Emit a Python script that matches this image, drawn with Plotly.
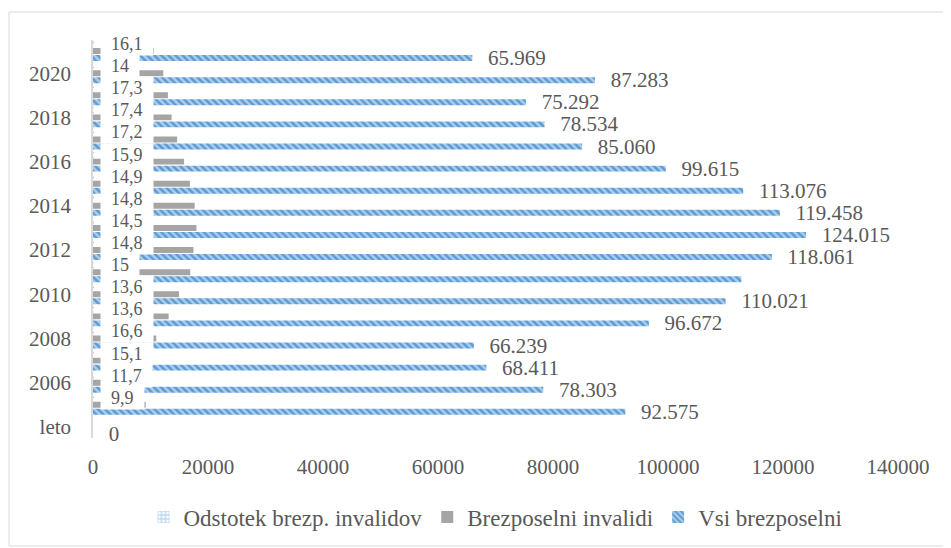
import plotly.graph_objects as go

# ---- data ----
categories = ["leto", "2005", "2006", "2007", "2008", "2009", "2010", "2011", "2012",
              "2013", "2014", "2015", "2016", "2017", "2018", "2019", "2020", "2021"]
vsi_brezposelni = [0, 92575, 78303, 68411, 66239, 96672, 110021, 112753, 118061,
                   124015, 119458, 113076, 99615, 85060, 78534, 75292, 87283, 65969]
brezposelni_invalidi = [0, 9170, 9160, 10330, 11000, 13150, 14960, 16910, 17470,
                        17980, 17680, 16850, 15840, 14630, 13670, 13030, 12220, 10620]
odstotek = [0, 9.9, 11.7, 15.1, 16.6, 13.6, 13.6, 15, 14.8,
            14.5, 14.8, 14.9, 15.9, 17.2, 17.4, 17.3, 14, 16.1]
y_tick_labels = ["leto", "2006", "2008", "2010", "2012", "2014", "2016", "2018", "2020"]
x_ticks = [0, 20000, 40000, 60000, 80000, 100000, 120000, 140000]
unlabeled_vsi = ["2011"]
unlabeled_odstotek = ["leto"]

# ---- styling ----
FONT = "Liberation Serif"
TXT = "#595959"
BLUE = "#5B9BD5"
GRAY = "#A5A5A5"
W, H = 951, 548
PAGE_OFF = 8  # default body margin of the html page
# desired plot-area edges in window pixels
PL, PR, PT, PB = 93, 898, 40, 438
ML = PL - PAGE_OFF
MT = PT - PAGE_OFF
MR = W - (PR - PAGE_OFF)
MB = H - (PB - PAGE_OFF)
BARGAP = 0.05
BARGROUPGAP = 0.15
NB = "\u00a0"

plot_h = PB - PT
plot_w = PR - PL
cat_px = plot_h / len(categories)
slot_px = cat_px * (1 - BARGAP) / 3
cat_index = {c: i for i, c in enumerate(categories)}

vsi_text = []
for c, v in zip(categories, vsi_brezposelni):
    vsi_text.append("" if c in unlabeled_vsi else NB * 3 + f"{v:,}".replace(",", "."))

fig = go.Figure()
fig.add_trace(go.Bar(
    name="Vsi brezposelni", y=categories, x=vsi_brezposelni, orientation="h",
    marker=dict(color=BLUE, line=dict(width=0),
                pattern=dict(shape="\\", fgcolor="white", bgcolor=BLUE, size=5, solidity=0.5)),
    text=vsi_text, textposition="outside", constraintext="none", cliponaxis=False,
    textfont=dict(family=FONT, size=21, color=TXT),
))
fig.add_trace(go.Bar(
    name="Brezposelni invalidi", y=categories, x=brezposelni_invalidi, orientation="h",
    marker=dict(color=GRAY, line=dict(width=0)),
))
fig.add_trace(go.Bar(
    name="Odstotek brezp. invalidov", y=categories, x=odstotek, orientation="h",
    marker=dict(color="white", line=dict(width=0),
                pattern=dict(shape="+", fgcolor=BLUE, bgcolor="white", size=5, solidity=0.5)),
))

annotations = []
for c, v in zip(categories, odstotek):
    if c in unlabeled_odstotek:
        continue
    annotations.append(dict(
        x=v, y=cat_index[c], xref="x", yref="y", xanchor="left", yanchor="middle",
        xshift=7, yshift=slot_px, showarrow=False,
        text=NB * 2 + f"{v:g}".replace(".", ",") + NB * 2,
        bgcolor="white", borderpad=1,
        font=dict(family=FONT, size=18, color=TXT),
    ))

def px_to_paper_x(px):
    return (px - PL) / plot_w

def px_to_paper_y(py):
    return (PB - py) / plot_h

fig.update_layout(
    width=W, height=H,
    margin=dict(l=ML, r=MR, t=MT, b=MB, pad=0),
    paper_bgcolor="white", plot_bgcolor="white",
    barmode="group", bargap=BARGAP, bargroupgap=BARGROUPGAP,
    separators=",.",
    font=dict(family=FONT, size=21, color=TXT),
    showlegend=True,
    legend=dict(orientation="h", x=0.5, xanchor="center", y=px_to_paper_y(517), yanchor="middle",
                traceorder="reversed", font=dict(family=FONT, size=23, color=TXT),
                itemwidth=30),
    annotations=annotations,
    shapes=[dict(type="rect", xref="paper", yref="paper",
                 x0=px_to_paper_x(PAGE_OFF + 1), x1=px_to_paper_x(949),
                 y0=px_to_paper_y(546), y1=px_to_paper_y(12),
                 line=dict(color="#D9D9D9", width=1), layer="below")],
)
fig.update_xaxes(range=[0, 140000], tickvals=x_ticks, tickformat="d",
                 showgrid=False, zeroline=False, showline=False, ticks="",
                 ticklabelstandoff=14, tickfont=dict(family=FONT, size=21, color=TXT))
fig.update_yaxes(type="category", categoryorder="array", categoryarray=categories,
                 range=[-0.5, len(categories) - 0.5],
                 tickvals=[cat_index[t] for t in y_tick_labels], ticktext=y_tick_labels,
                 showgrid=False, zeroline=False, showline=True, linecolor="#D9D9D9", linewidth=1.5,
                 ticks="", ticklabelstandoff=16, tickfont=dict(family=FONT, size=21, color=TXT))

fig.write_html("out.html")
